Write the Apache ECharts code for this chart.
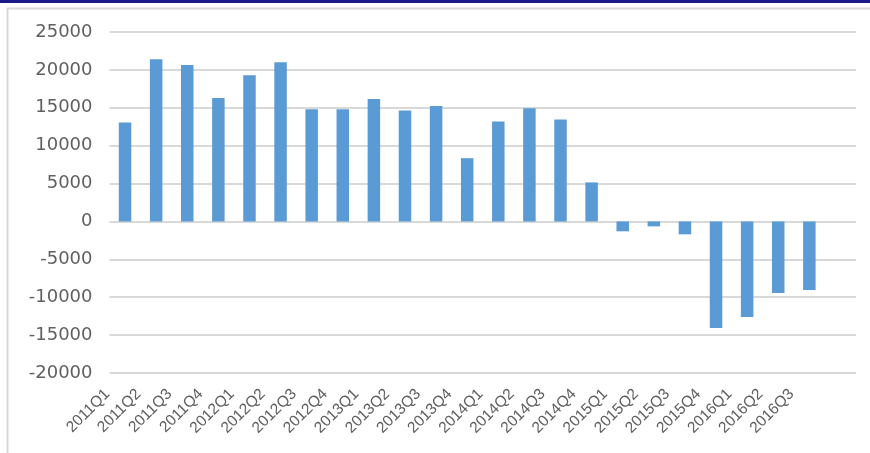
<!DOCTYPE html>
<html>
<head>
<meta charset="utf-8">
<script src="https://cdn.jsdelivr.net/npm/echarts@6/dist/echarts.min.js"></script>
<style>
html,body{margin:0;padding:0;background:#fff;}
#chart{width:870px;height:453px;}
</style>
</head>
<body>
<div id="chart"></div>
<script>
var categories = ['2011Q1','2011Q2','2011Q3','2011Q4','2012Q1','2012Q2','2012Q3','2012Q4','2013Q1','2013Q2','2013Q3','2013Q4','2014Q1','2014Q2','2014Q3','2014Q4','2015Q1','2015Q2','2015Q3','2015Q4','2016Q1','2016Q2','2016Q3',''];
var values = [13050, 21400, 20650, 16300, 19300, 21000, 14800, 14800, 16150, 14650, 15250, 8350, 13200, 14950, 13450, 5150, -1300, -650, -1700, -14050, -12600, -9450, -9050, null];
var yMin = -20000, yMax = 25000, yStep = 5000;

var chart = echarts.init(document.getElementById('chart'), null, {renderer:'canvas'});
chart.setOption({
  animation: false,
  backgroundColor: '#ffffff',
  grid: {left: 109.5, right: 14, top: 32, bottom: 80, containLabel: false},
  xAxis: {
    type: 'category',
    data: categories,
    axisLine: {show: false},
    axisTick: {show: false},
    axisLabel: {
      interval: 0, rotate: 45, margin: 1,
      padding: [0, 25, 0, 0],
      fontFamily: 'Liberation Sans', fontSize: 15.5, color: '#5f5f5f'
    }
  },
  yAxis: {
    type: 'value',
    min: yMin, max: yMax, interval: yStep,
    axisLine: {show: false},
    axisTick: {show: false},
    splitLine: {lineStyle: {color: '#d9d9d9', width: 2}},
    axisLabel: {
      margin: 17, fontFamily: 'DejaVu Sans', fontSize: 18, color: '#606060',
      formatter: function (v) { return String(v); }
    }
  },
  series: [{
    type: 'bar',
    data: values,
    barWidth: 12.5,
    itemStyle: {color: '#5b9bd5'}
  }],
  graphic: [
    {type: 'rect', shape: {x: 0, y: 0, width: 870, height: 3}, style: {fill: '#1a1a8a'}, silent: true},
    {type: 'line', shape: {x1: 7, y1: 8.5, x2: 870, y2: 8.5}, style: {stroke: '#d9d9d9', lineWidth: 2}, silent: true},
    {type: 'line', shape: {x1: 7.5, y1: 8, x2: 7.5, y2: 453}, style: {stroke: '#d9d9d9', lineWidth: 2}, silent: true}
  ]
});
</script>
</body>
</html>
